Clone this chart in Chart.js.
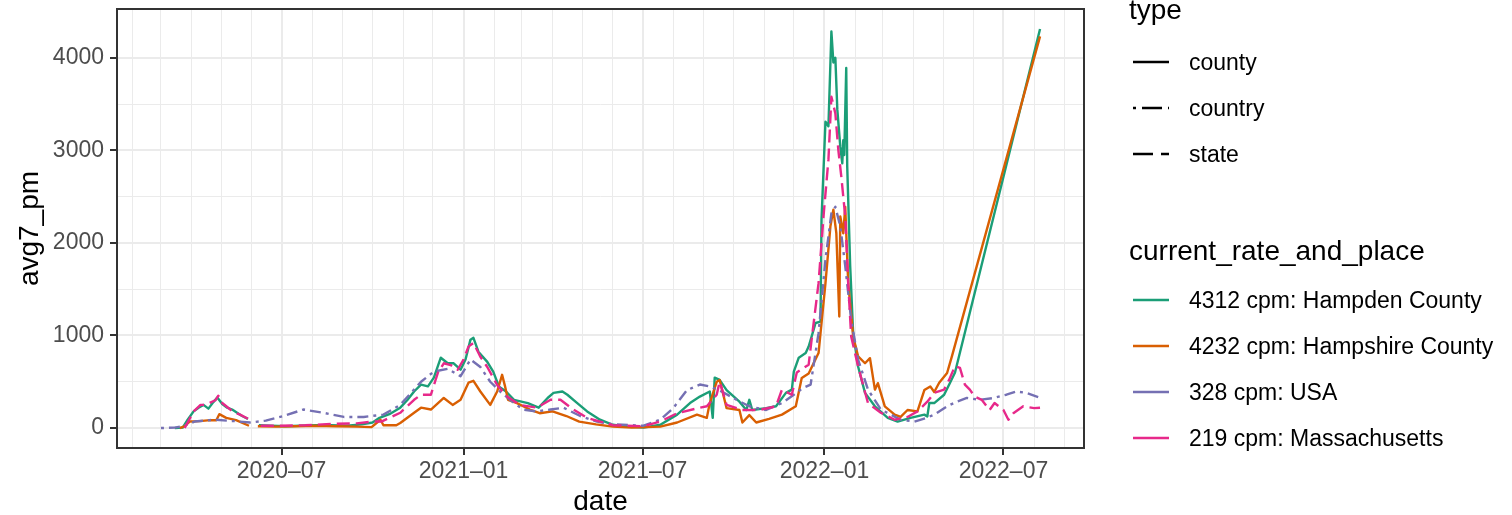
<!DOCTYPE html>
<html><head><meta charset="utf-8">
<script src="https://cdn.jsdelivr.net/npm/chart.js@4/dist/chart.umd.min.js"></script>
<style>html,body{margin:0;padding:0;background:#fff;overflow:hidden}#wrap{width:1512px;height:515px;position:relative}</style>
</head><body><div id="wrap"><canvas id="c" width="1512" height="515"></canvas></div>
<script>
// ---------------- data ----------------
const hampdenDates = ['2020-03-15','2020-03-23','2020-03-28','2020-04-03','2020-04-08','2020-04-13','2020-04-18','2020-04-23','2020-04-27','2020-05-02','2020-05-07','2020-05-12','2020-05-17','2020-05-22','2020-05-28','2020-06-03','2020-06-08','2020-06-20','2020-07-05','2020-07-20','2020-08-05','2020-08-20','2020-09-05','2020-09-20','2020-10-01','2020-10-08','2020-10-18','2020-10-29','2020-11-05','2020-11-12','2020-11-19','2020-11-26','2020-12-02','2020-12-09','2020-12-16','2020-12-22','2020-12-29','2021-01-03','2021-01-08','2021-01-11','2021-01-16','2021-01-25','2021-01-31','2021-02-06','2021-02-13','2021-02-21','2021-03-07','2021-03-18','2021-03-27','2021-04-02','2021-04-11','2021-04-16','2021-04-26','2021-05-06','2021-05-19','2021-06-01','2021-06-15','2021-07-02','2021-07-19','2021-08-05','2021-08-18','2021-08-28','2021-09-07','2021-09-10','2021-09-12','2021-09-17','2021-09-24','2021-10-07','2021-10-14','2021-10-17','2021-10-20','2021-11-03','2021-11-13','2021-11-23','2021-11-29','2021-12-01','2021-12-06','2021-12-13','2021-12-16','2021-12-23','2021-12-28','2021-12-29','2022-01-02','2022-01-05','2022-01-08','2022-01-10','2022-01-12','2022-01-14','2022-01-17','2022-01-19','2022-01-20','2022-01-21','2022-01-23','2022-01-24','2022-01-27','2022-01-30','2022-02-04','2022-02-11','2022-02-21','2022-03-06','2022-03-16','2022-03-29','2022-04-12','2022-04-15','2022-04-17','2022-04-22','2022-05-02','2022-05-08','2022-05-13','2022-08-07'];
const hampdenValues = [0,5,90,180,220,250,210,280,330,260,220,200,165,130,100,null,30,25,20,25,30,30,25,40,60,110,150,220,300,395,470,450,545,760,700,700,630,740,955,975,825,715,610,445,395,305,270,220,325,380,395,360,270,180,90,35,15,5,35,145,270,340,395,110,545,520,410,285,195,305,195,215,235,380,415,610,760,810,880,1135,1150,2250,3310,3260,4285,3950,4000,3440,3040,2860,3110,2950,3890,2830,1750,1025,665,380,235,110,70,110,145,125,270,270,360,490,600,4312];

const hampshireDates = ['2020-03-20','2020-03-25','2020-03-30','2020-04-09','2020-04-20','2020-04-26','2020-04-29','2020-05-06','2020-05-16','2020-05-29','2020-06-03','2020-06-07','2020-06-25','2020-07-15','2020-08-05','2020-08-25','2020-09-15','2020-09-30','2020-10-09','2020-10-12','2020-10-25','2020-10-29','2020-11-12','2020-11-19','2020-11-29','2020-12-12','2020-12-21','2020-12-29','2021-01-06','2021-01-11','2021-01-18','2021-01-28','2021-02-04','2021-02-09','2021-02-12','2021-02-15','2021-02-24','2021-03-09','2021-03-19','2021-04-01','2021-04-15','2021-04-28','2021-05-15','2021-06-01','2021-06-20','2021-07-19','2021-08-05','2021-08-25','2021-09-04','2021-09-07','2021-09-14','2021-09-17','2021-09-20','2021-09-24','2021-10-07','2021-10-10','2021-10-17','2021-10-24','2021-11-06','2021-11-19','2021-12-03','2021-12-09','2021-12-16','2021-12-26','2022-01-02','2022-01-07','2022-01-10','2022-01-13','2022-01-16','2022-01-17','2022-01-20','2022-01-22','2022-01-25','2022-01-30','2022-02-04','2022-02-11','2022-02-16','2022-02-21','2022-02-24','2022-03-03','2022-03-13','2022-03-19','2022-03-26','2022-04-05','2022-04-12','2022-04-18','2022-04-22','2022-04-27','2022-05-05','2022-05-10','2022-08-07'];
const hampshireValues = [0,20,70,75,85,85,150,110,85,25,null,20,15,20,25,20,15,10,90,30,30,55,165,220,200,325,250,305,490,510,395,250,395,575,450,305,270,200,160,180,130,70,40,15,5,15,60,145,110,270,500,520,390,215,195,60,140,60,100,145,235,540,590,810,1565,2180,2360,2105,1205,2285,2105,2390,1565,990,775,700,755,415,485,235,145,120,195,180,410,450,390,490,595,780,4232];

const usaDates = ['2020-03-01','2020-03-15','2020-03-23','2020-04-04','2020-04-24','2020-05-14','2020-05-30','2020-06-15','2020-07-03','2020-07-23','2020-08-12','2020-09-02','2020-09-22','2020-10-12','2020-10-29','2020-11-19','2020-12-02','2020-12-16','2020-12-29','2021-01-08','2021-01-18','2021-01-28','2021-02-07','2021-02-17','2021-03-02','2021-03-16','2021-03-30','2021-04-12','2021-04-29','2021-05-16','2021-06-01','2021-07-02','2021-07-19','2021-08-01','2021-08-15','2021-08-28','2021-09-07','2021-09-20','2021-10-04','2021-10-17','2021-11-03','2021-11-19','2021-12-01','2021-12-10','2021-12-18','2021-12-26','2022-01-02','2022-01-08','2022-01-12','2022-01-17','2022-01-22','2022-01-28','2022-02-04','2022-02-14','2022-02-27','2022-03-19','2022-04-02','2022-04-14','2022-04-22','2022-05-05','2022-05-15','2022-05-25','2022-06-07','2022-06-21','2022-07-04','2022-07-14','2022-07-24','2022-08-07'];
const usaValues = [0,5,20,70,90,75,60,80,130,200,165,120,120,145,250,500,610,640,560,740,660,500,395,305,200,180,200,220,130,70,40,25,90,215,410,470,450,390,305,235,195,270,360,430,470,1025,1820,2320,2390,2180,1750,1170,740,415,200,90,70,110,145,235,285,325,305,325,360,395,380,328];

const massDates = ['2020-03-25','2020-04-03','2020-04-10','2020-04-15','2020-04-25','2020-04-28','2020-05-02','2020-05-13','2020-05-20','2020-05-28','2020-06-04','2020-06-10','2020-07-01','2020-07-25','2020-08-20','2020-09-15','2020-10-01','2020-10-10','2020-10-29','2020-11-12','2020-11-19','2020-11-29','2020-12-06','2020-12-12','2020-12-19','2020-12-26','2021-01-01','2021-01-06','2021-01-11','2021-01-18','2021-01-25','2021-02-04','2021-02-14','2021-02-27','2021-03-16','2021-03-30','2021-04-09','2021-04-22','2021-05-06','2021-06-01','2021-07-02','2021-07-19','2021-08-05','2021-08-26','2021-09-04','2021-09-14','2021-09-17','2021-09-20','2021-09-24','2021-10-10','2021-10-27','2021-11-13','2021-11-19','2021-11-29','2021-12-04','2021-12-16','2021-12-19','2021-12-26','2021-12-31','2022-01-05','2022-01-08','2022-01-12','2022-01-15','2022-01-18','2022-01-22','2022-01-25','2022-01-28','2022-02-04','2022-02-14','2022-02-27','2022-03-13','2022-03-26','2022-04-05','2022-04-15','2022-04-22','2022-05-02','2022-05-07','2022-05-13','2022-05-18','2022-05-23','2022-05-28','2022-06-02','2022-06-09','2022-06-17','2022-06-22','2022-07-01','2022-07-06','2022-07-11','2022-07-21','2022-08-01','2022-08-07'];
const massValues = [0,180,250,250,300,350,270,175,145,100,null,25,25,30,45,50,70,70,165,305,360,360,595,700,680,630,740,880,920,770,660,465,340,250,220,305,305,200,110,30,20,70,160,215,235,360,500,400,250,195,195,235,415,360,600,685,955,1565,2285,2900,3580,3400,3005,2720,2285,1565,990,665,270,165,90,120,180,285,380,415,520,670,650,470,415,340,305,195,270,195,90,160,235,215,219];

const seriesNames = ['4312 cpm: Hampden County','4232 cpm: Hampshire County','328 cpm: USA','219 cpm: Massachusetts'];
const typeNames = ['county','country','state'];
const yTickValues = [0,500,1000,1500,2000,2500,3000,3500,4000];
const xTickMonths = ['2020-02','2020-03','2020-04','2020-05','2020-06','2020-07','2020-08','2020-09','2020-10','2020-11','2020-12','2021-01','2021-02','2021-03','2021-04','2021-05','2021-06','2021-07','2021-08','2021-09','2021-10','2021-11','2021-12','2022-01','2022-02','2022-03','2022-04','2022-05','2022-06','2022-07','2022-08','2022-09'];
const xLabelMonths = ['2020-07','2021-01','2021-07','2022-01','2022-07'];

// ---------------- helpers ----------------
const base = Date.UTC(2020,0,1);
const dayNum = s => (Date.UTC(+s.slice(0,4), +s.slice(5,7)-1, s.length>7?+s.slice(8,10):1) - base)/86400000;
const pts = (d, v) => d.map((s,i) => ({x: dayNum(s), y: v[i]}));

const firstDay = dayNum('2020-03-01'), lastDay = dayNum('2022-08-07');
const span = lastDay - firstDay;
const xMin = firstDay - 0.05*span, xMax = lastDay + 0.05*span;
const yMin = 0 - 0.05*4312, yMax = 4312 + 0.05*4312;

const COL = ['#1B9E77','#D95F02','#7570B3','#E7298A'];
const DASH = [[], [], [3,5,11,5], [13,6]];
const FONT = '"Liberation Sans", Arial, Helvetica, sans-serif';

const xLabelMap = {};
xLabelMonths.forEach(m => { xLabelMap[dayNum(m)] = m.replace('-', '\u2013'); });
const xMajor = v => xLabelMap[v] !== undefined;

const decor = {
  id: 'decor',
  afterDraw(chart) {
    const ctx = chart.ctx, a = chart.chartArea;
    ctx.save();
    ctx.strokeStyle = '#333333'; ctx.lineWidth = 2; ctx.setLineDash([]);
    ctx.strokeRect(a.left, a.top, a.right - a.left, a.bottom - a.top);
    // axis titles
    ctx.fillStyle = '#000'; ctx.font = '28px ' + FONT;
    ctx.textAlign = 'center'; ctx.textBaseline = 'alphabetic';
    ctx.fillText('date', (a.left + a.right)/2, 510);
    ctx.save(); ctx.translate(38, (a.top + a.bottom)/2); ctx.rotate(-Math.PI/2);
    ctx.fillText('avg7_pm', 0, 0); ctx.restore();
    // legend: type
    ctx.textAlign = 'left';
    ctx.font = '28px ' + FONT;
    ctx.fillText('type', 1129, 19);
    const typeDash = [[], [3,6,20,6], [20,8]];
    const ty = [62,108,154];
    ctx.font = '23px ' + FONT;
    typeNames.forEach((t,i) => {
      ctx.strokeStyle = '#000'; ctx.lineWidth = 2.5; ctx.setLineDash(typeDash[i]);
      ctx.beginPath(); ctx.moveTo(1133, ty[i]); ctx.lineTo(1169, ty[i]); ctx.stroke();
      ctx.fillText(t, 1189, ty[i] + 8);
    });
    ctx.setLineDash([]);
    ctx.font = '28px ' + FONT;
    ctx.fillText('current_rate_and_place', 1129, 260);
    const cy = [300,346,392,438];
    ctx.font = '23px ' + FONT;
    seriesNames.forEach((n,i) => {
      ctx.strokeStyle = COL[i]; ctx.lineWidth = 2.5;
      ctx.beginPath(); ctx.moveTo(1133, cy[i]); ctx.lineTo(1169, cy[i]); ctx.stroke();
      ctx.fillStyle = '#000';
      ctx.fillText(n, 1189, cy[i] + 8);
    });
    ctx.restore();
  }
};

const sets = [
  {label: seriesNames[3], data: pts(massDates, massValues), c: 3, order: 0},
  {label: seriesNames[2], data: pts(usaDates, usaValues), c: 2, order: 1},
  {label: seriesNames[1], data: pts(hampshireDates, hampshireValues), c: 1, order: 2},
  {label: seriesNames[0], data: pts(hampdenDates, hampdenValues), c: 0, order: 3},
].map(s => ({
  label: s.label, data: s.data, order: s.order,
  borderColor: COL[s.c], borderWidth: 2.4, borderDash: DASH[s.c],
  pointRadius: 0, tension: 0, spanGaps: false, fill: false,
  borderJoinStyle: 'round', borderCapStyle: 'butt'
}));

new Chart(document.getElementById('c'), {
  type: 'line',
  data: { datasets: sets },
  options: {
    responsive: false, animation: false, devicePixelRatio: 1,
    parsing: true, normalized: true,
    layout: { padding: { left: 0, right: 428, top: 9, bottom: 0 } },
    plugins: { legend: {display: false}, tooltip: {enabled: false} },
    scales: {
      x: {
        type: 'linear', min: xMin, max: xMax,
        afterBuildTicks: sc => { sc.ticks = xTickMonths.map(m => ({value: dayNum(m)})); },
        afterFit: sc => { sc.height = 67; sc.paddingLeft = 0; sc.paddingRight = 0; sc.paddingTop = 0; sc.paddingBottom = 0; },
        border: { display: false },
        grid: {
          color: '#EBEBEB',
          lineWidth: c => (c.tick && xMajor(c.tick.value)) ? 2 : 1,
          tickColor: c => (c.tick && xMajor(c.tick.value)) ? '#333333' : 'rgba(0,0,0,0)',
          tickWidth: 2, tickLength: 7, drawTicks: true
        },
        ticks: {
          autoSkip: false, maxRotation: 0, minRotation: 0, padding: 3,
          color: '#4D4D4D', font: { family: FONT, size: 23 },
          callback: v => xLabelMap[v] !== undefined ? xLabelMap[v] : ''
        }
      },
      y: {
        type: 'linear', min: yMin, max: yMax,
        afterBuildTicks: sc => { sc.ticks = yTickValues.map(v => ({value: v})); },
        afterFit: sc => { sc.width = 117; sc.paddingTop = 0; sc.paddingBottom = 0; sc.paddingLeft = 0; sc.paddingRight = 0; },
        border: { display: false },
        grid: {
          color: '#EBEBEB',
          lineWidth: c => (c.tick && c.tick.value % 1000 === 0) ? 2 : 1,
          tickColor: c => (c.tick && c.tick.value % 1000 === 0) ? '#333333' : 'rgba(0,0,0,0)',
          tickWidth: 2, tickLength: 7, drawTicks: true
        },
        ticks: {
          autoSkip: false, padding: 6,
          color: '#4D4D4D', font: { family: FONT, size: 23 },
          callback: v => (v % 1000 === 0) ? String(v) : ''
        }
      }
    }
  },
  plugins: [decor]
});
</script></body></html>
